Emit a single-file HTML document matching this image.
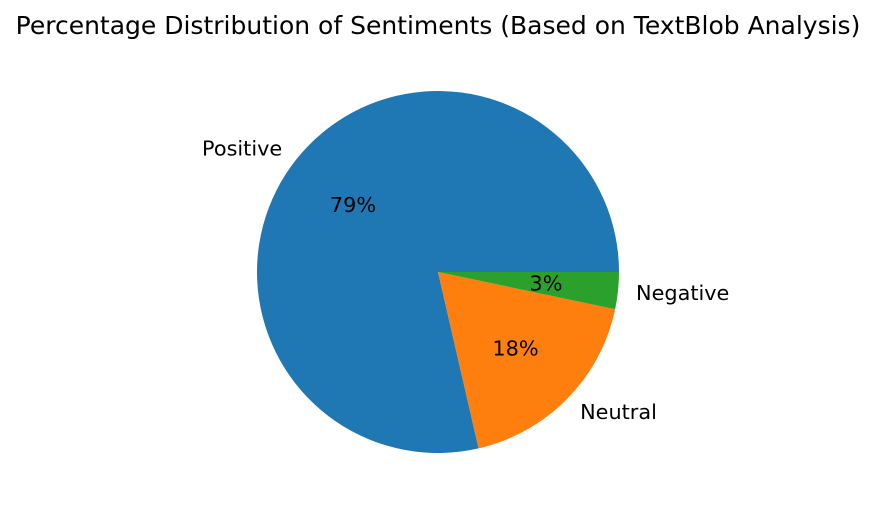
<!DOCTYPE html>
<html><head><meta charset="utf-8">
<style>
html,body{margin:0;padding:0;background:#fff;}
svg{display:block;font-family:"DejaVu Sans","Liberation Sans",sans-serif;}
</style></head>
<body>
<svg id="chart" width="876" height="514" viewBox="0 0 876 514">
<text x="438" y="34" text-anchor="middle" font-size="25" fill="#000">Percentage Distribution of Sentiments (Based on TextBlob Analysis)</text>
<g id="pie"></g>
</svg>
<script>
const categories = ["Positive", "Neutral", "Negative"];
const values = [78.6, 18.1, 3.3];
const colors = ["#1f77b4", "#ff7f0e", "#2ca02c"];

const cx = 438, cy = 272, R = 181;
const g = document.getElementById('pie');
const NS = 'http://www.w3.org/2000/svg';
const total = values.reduce((a, b) => a + b, 0);
let start = 0;
function pt(angDeg, r) {
  const a = angDeg * Math.PI / 180;
  return [cx + r * Math.cos(a), cy - r * Math.sin(a)];
}
values.forEach((v, i) => {
  const sweep = v / total * 360;
  const end = start + sweep;
  const [x1, y1] = pt(start, R), [x2, y2] = pt(end, R);
  const large = sweep > 180 ? 1 : 0;
  const p = document.createElementNS(NS, 'path');
  p.setAttribute('d', `M${cx},${cy} L${x1},${y1} A${R},${R} 0 ${large} 0 ${x2},${y2} Z`);
  p.setAttribute('fill', colors[i]);
  
  
  g.appendChild(p);
  const mid = start + sweep / 2;
  const [lx, ly] = pt(mid, R * 1.1);
  const t = document.createElementNS(NS, 'text');
  t.setAttribute('x', lx);
  t.setAttribute('y', ly + 7.5);
  t.setAttribute('font-size', '20.8');
  t.setAttribute('text-anchor', Math.cos(mid * Math.PI / 180) < 0 ? 'end' : 'start');
  t.textContent = categories[i];
  
  
  g.appendChild(t);
  const [px, py] = pt(mid, R * 0.6);
  const pc = document.createElementNS(NS, 'text');
  pc.setAttribute('x', px);
  pc.setAttribute('y', py + 7.5);
  pc.setAttribute('font-size', '20.8');
  pc.setAttribute('text-anchor', 'middle');
  pc.textContent = Math.round(v / total * 100) + '%';
  
  
  g.appendChild(pc);
  start = end;
});
</script>
</body></html>
